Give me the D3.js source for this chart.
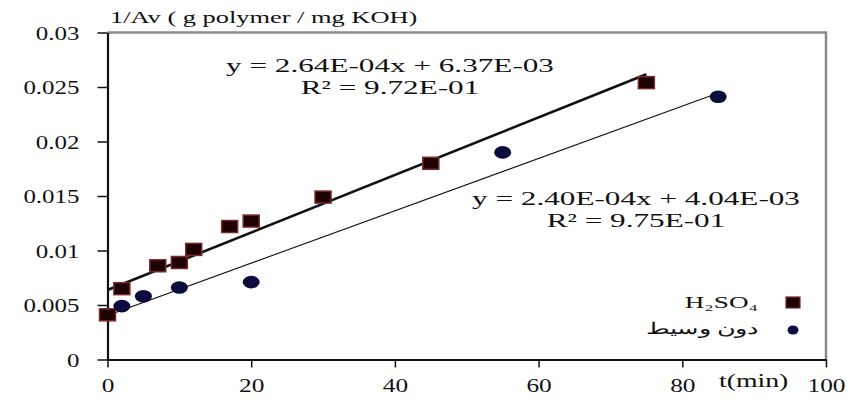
<!DOCTYPE html>
<html>
<head>
<meta charset="utf-8">
<script src="https://cdn.jsdelivr.net/npm/d3@7/dist/d3.min.js"></script>
<style>
  html, body { margin: 0; padding: 0; background: #fff; }
  svg { display: block; }
  text { font-family: "Liberation Serif", "Times New Roman", serif; fill: #111; }
</style>
</head>
<body>
<svg id="chart" width="851" height="403"></svg>
<script>
// Reaction time (min)
const h2so4Time  = [0, 2, 7, 10, 12, 17, 20, 30, 45, 75];
const h2so4Value = [0.0041, 0.0065, 0.0086, 0.0089, 0.0101, 0.0122, 0.0127, 0.0149, 0.0180, 0.0254];
const plainTime  = [2, 5, 10, 20, 55, 85];
const plainValue = [0.0049, 0.0058, 0.0066, 0.0071, 0.0190, 0.0241];

// Linear fits: slope, intercept, R²
const fitSlope     = [2.64e-4, 2.40e-4];
const fitIntercept = [6.37e-3, 4.04e-3];
const fitLabels    = [["y = 2.64E-04x + 6.37E-03", "R² = 9.72E-01"],
                      ["y = 2.40E-04x + 4.04E-03", "R² = 9.75E-01"]];

const xTicks = [0, 20, 40, 60, 80, 100];
const yTicks = [0, 0.005, 0.01, 0.015, 0.02, 0.025, 0.03];
const yTickLabels = ["0", "0.005", "0.01", "0.015", "0.02", "0.025", "0.03"];
const seriesNames = ["H₂SO₄", "دون وسيط"];

const svg = d3.select("#chart");
const x = d3.scaleLinear().domain([0, 100]).range([107.5, 826]);
const y = d3.scaleLinear().domain([0, 0.03]).range([359.5, 32.5]);

// Text is drawn horizontally widened
function place(sel, px, py, sx) {
  return sel.attr("transform", `translate(${px},${py}) scale(${sx},1)`);
}

// Plot frame (top and right edges)
svg.append("path")
  .attr("d", `M${x(0)},${y(0.03)}H${x(100)}V${y(0)}`)
  .attr("fill", "none").attr("stroke", "#8a8a8a").attr("stroke-width", 2.5);

// Axes
const gy = svg.append("g").attr("transform", `translate(${x(0)},0)`)
  .call(d3.axisLeft(y).tickValues(yTicks).tickSize(10).tickSizeOuter(0)
    .tickFormat((d, i) => yTickLabels[i]));
const gx = svg.append("g").attr("transform", `translate(0,${y(0)})`)
  .call(d3.axisBottom(x).tickValues(xTicks).tickSize(8).tickSizeOuter(0));
[gy, gx].forEach(g => {
  g.attr("font-family", null);
  g.select(".domain").attr("stroke", "#111").attr("stroke-width", 2.2);
  g.selectAll(".tick line").attr("stroke", "#111").attr("stroke-width", 1.5);
  g.selectAll("text").attr("font-size", 19.5).attr("fill", "#111");
});
gy.selectAll(".tick text")
  .attr("dy", "0.34em")
  .attr("transform", "translate(-28,0) scale(1.28,1)").attr("x", 0);
gx.selectAll(".tick text")
  .attr("dy", null)
  .attr("transform", "translate(0,32.5) scale(1.3,1)").attr("y", 0);

// Trend lines over each series' time span
const spans = [d3.extent(h2so4Time), [0, d3.max(plainTime)]];
const widths = [2.6, 1.1];
spans.forEach((s, k) => {
  svg.append("line")
    .attr("x1", x(s[0])).attr("y1", y(fitSlope[k] * s[0] + fitIntercept[k]))
    .attr("x2", x(s[1])).attr("y2", y(fitSlope[k] * s[1] + fitIntercept[k]))
    .attr("stroke", "#111").attr("stroke-width", widths[k]);
});

// Markers
const sqW = 16, sqH = 12;
svg.append("g").selectAll("rect").data(d3.zip(h2so4Time, h2so4Value)).join("rect")
  .attr("x", d => x(d[0]) - sqW / 2).attr("y", d => y(d[1]) - sqH / 2)
  .attr("width", sqW).attr("height", sqH)
  .attr("fill", "#1c0202").attr("stroke", "#7a2a2a").attr("stroke-width", 1.5);
svg.append("g").selectAll("ellipse").data(d3.zip(plainTime, plainValue)).join("ellipse")
  .attr("cx", d => x(d[0])).attr("cy", d => y(d[1]))
  .attr("rx", 8.5).attr("ry", 6.3)
  .attr("fill", "#0c0c3e");

// Fit equations
const eqPos = [[390, 72, 94], [636, 205, 227]];
fitLabels.forEach((lines, k) => {
  lines.forEach((t, j) => {
    place(svg.append("text"), eqPos[k][0], eqPos[k][1 + j], 1.6)
      .attr("text-anchor", "middle").attr("font-size", 19.5).text(t);
  });
});

// Axis titles
place(svg.append("text"), 110, 23, 1.6).attr("font-size", 16.5).text("1/Av ( g polymer / mg KOH)");
place(svg.append("text"), 719, 387, 1.5).attr("font-size", 18.5).text("t(min)");

// Legend
place(svg.append("text"), 758, 308, 1.6).attr("text-anchor", "end").attr("font-size", 17).text(seriesNames[0]);
svg.append("rect").attr("x", 786).attr("y", 297).attr("width", 14).attr("height", 11)
  .attr("fill", "#1c0202").attr("stroke", "#7a2a2a").attr("stroke-width", 1.2);
place(svg.append("text"), 758, 334, 1.6).attr("text-anchor", "end").attr("font-size", 16)
  .attr("font-family", "DejaVu Sans, sans-serif").text(seriesNames[1]);
svg.append("ellipse").attr("cx", 793).attr("cy", 330).attr("rx", 5.5).attr("ry", 4.5).attr("fill", "#0c0c3e");
</script>
</body>
</html>
